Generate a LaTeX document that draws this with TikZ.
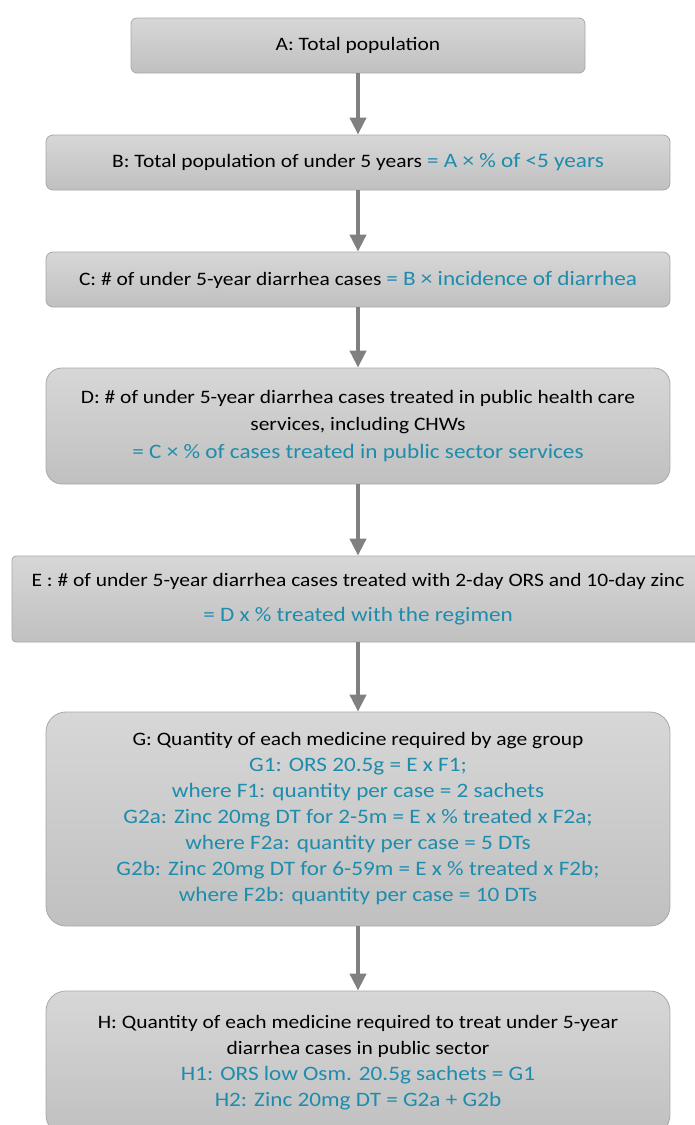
\documentclass[tikz,border=0pt]{standalone}
\usepackage{fontspec}
\setmainfont{Carlito}[FakeStretch=1.13]
\newfontfamily\fmlfont{Carlito}[FakeStretch=1.13, Scale=1.08]
\usetikzlibrary{arrows.meta}
\definecolor{boxtop}{RGB}{215,215,215}
\definecolor{boxbot}{RGB}{192,192,192}
\definecolor{boxline}{RGB}{168,168,168}
\definecolor{formula}{RGB}{30,140,172}
\definecolor{arrowgray}{RGB}{128,128,128}
\newcommand{\fml}[1]{{\fmlfont\color{formula}#1}}

\begin{document}
\begin{tikzpicture}[x=1pt, y=-1pt,
    box/.style={draw=boxline, line width=0.8pt, top color=boxtop, bottom color=boxbot,
      align=center, inner sep=0pt, font=\fontsize{19}{26}\selectfont},
    flow/.style={-{Triangle[width=16pt,length=17pt]}, line width=4pt, draw=arrowgray}]
	% Fix the page
	\useasboundingbox (0,0) rectangle (695,1125);
	\def\mx{358}
	
	% Draw the boxes
	\node[box, rounded corners=6pt, minimum width=454pt, minimum height=55pt] (A) at (\mx,45.5)
		{A: Total population};
	\node[box, rounded corners=7pt, minimum width=624pt, minimum height=55pt] (B) at (\mx,162.5)
		{B: Total population of under 5 years \fml{= A × \% of <5 years}};
	\node[box, rounded corners=7pt, minimum width=624pt, minimum height=55pt] (C) at (\mx,279.5)
		{C: \# of under 5-year diarrhea cases \fml{= B × incidence of diarrhea}};
	\node[box, rounded corners=16pt, minimum width=624pt, minimum height=116pt,
		font=\fontsize{19}{27.5}\selectfont] (D) at (\mx,426)
		{D: \# of under 5-year diarrhea cases treated in public health care\\
		 services, including CHWs\\
		 \fml{= C × \% of cases treated in public sector services}};
	% E runs off the right edge of the page
	\node[box, rounded corners=4pt, minimum width=692pt, minimum height=86pt] (E) at (\mx,599)
		{E : \# of under 5-year diarrhea cases treated with 2-day ORS and 10-day zinc\\[9pt]
		 \fml{= D x \% treated with the regimen}};
	\node[box, rounded corners=20pt, minimum width=624pt, minimum height=214pt] (G) at (\mx,819)
		{G: Quantity of each medicine required by age group\\
		 \fml{G1: ORS 20.5g = E x F1;}\\
		 \fml{where F1: quantity per case = 2 sachets}\\
		 \fml{G2a: Zinc 20mg DT for 2-5m = E x \% treated x F2a;}\\
		 \fml{where F2a: quantity per case = 5 DTs}\\
		 \fml{G2b: Zinc 20mg DT for 6-59m = E x \% treated x F2b;}\\
		 \fml{where F2b: quantity per case = 10 DTs}};
	% H is cut by the bottom of the page
	\node[box, rounded corners=20pt, minimum width=624pt, minimum height=144pt] (H) at (\mx,1063)
		{H: Quantity of each medicine required to treat under 5-year\\
		 diarrhea cases in public sector\\
		 \fml{H1: ORS low Osm. 20.5g sachets = G1}\\
		 \fml{H2: Zinc 20mg DT = G2a + G2b}};
	
	% Draw the arrows
	\draw[flow] (A) -- (B);
	\draw[flow] (B) -- (C);
	\draw[flow] (C) -- (D);
	\draw[flow] (D) -- (E);
	\draw[flow] (E) -- (G);
	\draw[flow] (G) -- (H);
	
\end{tikzpicture}
\end{document}
